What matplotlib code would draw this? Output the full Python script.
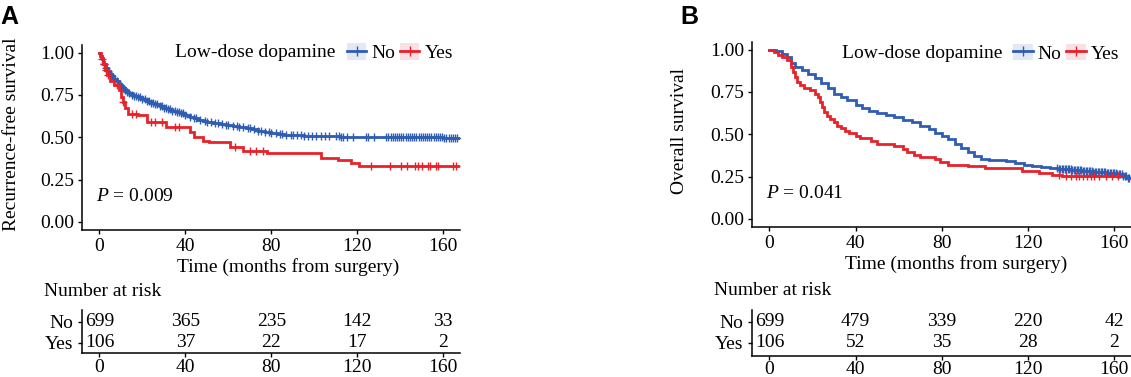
import numpy as np
import matplotlib
matplotlib.use("Agg")
import matplotlib.pyplot as plt
from matplotlib.patches import Patch
from matplotlib.lines import Line2D
from matplotlib.legend_handler import HandlerTuple

plt.rcParams['font.family'] = ['Liberation Serif', 'DejaVu Serif']
plt.rcParams['mathtext.fontset'] = 'custom'
plt.rcParams['mathtext.it'] = 'Liberation Serif:italic'
plt.rcParams['mathtext.rm'] = 'Liberation Serif'

# ---------------- data ----------------
groups = ["No", "Yes"]
legend_title = "Low-dose dopamine"
risk_times = [0, 40, 80, 120, 160]
x_ticks = [0, 40, 80, 120, 160]
y_ticks = [0.00, 0.25, 0.50, 0.75, 1.00]

# Panel A: recurrence-free survival
A_no_t = [0, 0.5, 1, 1.5, 2, 3, 4, 5, 6, 7, 8, 9, 10, 11, 12, 13, 14, 15, 16, 18, 20, 22, 24, 26,
          28, 30, 32, 34, 36, 38, 40, 42, 44, 46, 48, 50, 53, 56, 59, 62, 65, 68, 71, 74, 77, 80,
          83, 86, 90, 95, 100, 105, 112, 120, 140, 160]
A_no_s = [1.0, 0.98, 0.96, 0.945, 0.93, 0.91, 0.89, 0.875, 0.86, 0.845, 0.83, 0.815, 0.80, 0.79,
          0.78, 0.77, 0.76, 0.752, 0.745, 0.735, 0.725, 0.715, 0.705, 0.695, 0.685, 0.675, 0.665,
          0.655, 0.648, 0.641, 0.633, 0.622, 0.612, 0.603, 0.597, 0.591, 0.585, 0.578, 0.572,
          0.567, 0.562, 0.556, 0.548, 0.539, 0.531, 0.524, 0.519, 0.515, 0.512, 0.510, 0.508,
          0.506, 0.504, 0.502, 0.500, 0.498]
A_no_end = 167.7
A_no_cens = [1, 2, 3, 4, 5, 6, 7, 8, 9, 10, 11, 12, 13, 14, 15, 16, 17, 18, 19, 20, 21, 22, 23,
             24, 25, 26, 27, 28, 29, 30, 31, 32, 33, 34, 35, 36, 37, 38, 39, 40, 42, 44, 45, 47,
             49, 50, 52, 54, 55, 57, 59, 60, 62, 64, 65, 67, 69, 70, 72, 74, 75, 77, 79, 80, 82,
             84, 85, 87, 89, 90, 92, 94, 95, 97, 99, 101, 103, 105, 107, 110, 111.5, 112.5, 113.5,
             115, 118, 124, 125, 128, 133.5, 134.5, 135.5, 136.5, 137.5, 138.5, 139.5, 140.5,
             141.5, 142.5, 143.5, 144.5, 145.5, 146.5, 147.5, 148.5, 149.5, 150.5, 151.5, 152.5,
             153.5, 154.5, 155.5, 156.5, 157.5, 158.5, 159.5, 160.5, 161.5, 162.5, 163.5, 164.5,
             165.5, 166.5]

A_yes_t = [0, 0.8, 1.5, 2.5, 3.5, 5, 7, 9, 10, 11, 12, 13.5, 18, 22, 31, 42, 44, 48, 51, 61, 67,
           78, 103, 111, 117, 121]
A_yes_s = [1.0, 0.97, 0.93, 0.90, 0.87, 0.83, 0.81, 0.78, 0.74, 0.71, 0.67, 0.64, 0.63, 0.59,
           0.56, 0.53, 0.50, 0.48, 0.47, 0.44, 0.42, 0.405, 0.38, 0.365, 0.345, 0.33]
A_yes_end = 166.7
A_yes_cens = [2, 3, 4, 8, 11, 15, 17, 24, 26, 29, 35, 37, 63, 70, 73, 76, 126.6, 135, 140.5, 143,
              146.7, 148.3, 150, 153, 153.7, 156.8, 157.6, 164.4, 166]

A_risk_no = [699, 365, 235, 142, 33]
A_risk_yes = [106, 37, 22, 17, 2]
A_p = "0.009"
A_ylabel = "Recurrence-free survival"

# Panel B: overall survival
B_no_t = [0, 3, 6, 8, 10, 12, 15, 18, 21, 24, 27, 30, 33, 36, 40, 43, 46, 50, 54, 58, 62, 66, 70,
          74, 77, 80, 83, 86, 89, 92, 95, 98, 102, 106, 110, 114, 118, 122, 126, 130, 134, 140,
          145, 150, 156, 161, 164, 166]
B_no_s = [1.0, 0.99, 0.975, 0.955, 0.92, 0.90, 0.88, 0.855, 0.83, 0.805, 0.775, 0.74, 0.72,
          0.70, 0.675, 0.655, 0.64, 0.628, 0.612, 0.60, 0.587, 0.57, 0.55, 0.53, 0.51, 0.49,
          0.47, 0.445, 0.42, 0.395, 0.37, 0.355, 0.35, 0.345, 0.34, 0.33, 0.32, 0.313, 0.308,
          0.30, 0.295, 0.288, 0.282, 0.277, 0.272, 0.268, 0.255, 0.24]
B_no_end = 167.5
B_no_cens = [133.5, 134.2, 134.9, 135.6, 136.3, 137.0, 137.7, 138.4, 139.1, 139.8, 140.5, 141.2,
             141.9, 142.6, 143.3, 144.0, 144.7, 145.4, 146.1, 146.8, 147.5, 148.2, 148.9, 149.6,
             150.3, 151.0, 151.7, 152.4, 153.1, 153.8, 154.5, 155.2, 155.9, 156.6, 157.3, 158.0,
             158.7, 159.4, 160.1, 160.8, 161.5, 162.2, 162.9, 163.6, 164.3, 165.0, 165.7, 166.4,
             167.1]

B_yes_t = [0, 2, 4, 6, 8, 10, 11, 12, 13, 14, 16, 19, 21, 22.5, 23.5, 24.5, 25.5, 26.5, 28, 30,
           31.5, 33, 35, 37, 40, 42, 47, 50, 58, 62, 64, 67, 70, 77, 79, 83, 92, 100, 117, 125,
           131, 136]
B_yes_s = [1.0, 0.985, 0.97, 0.955, 0.94, 0.90, 0.87, 0.84, 0.81, 0.79, 0.775, 0.76, 0.74, 0.72,
           0.69, 0.66, 0.63, 0.61, 0.59, 0.57, 0.55, 0.535, 0.52, 0.505, 0.49, 0.475, 0.46,
           0.445, 0.43, 0.415, 0.395, 0.38, 0.365, 0.355, 0.335, 0.32, 0.31, 0.30, 0.285, 0.27,
           0.26, 0.255]
B_yes_end = 163.5
B_yes_cens = [134.5, 137.6, 139.9, 142.2, 143.8, 145.3, 147.6, 149.2, 150.7, 153, 156.2, 159.2,
              161.6]

B_risk_no = [699, 479, 339, 220, 42]
B_risk_yes = [106, 52, 35, 28, 2]
B_p = "0.041"
B_ylabel = "Overall survival"

# ---------------- styling ----------------
BLUE = "#2F5DB3"
RED = "#E8222B"
BLUE_BG = "#E3E9F4"
RED_BG = "#F7E1E2"
FS = 14
W, H = 1131, 377


def step_value(times, surv, t):
    idx = np.searchsorted(np.asarray(times), np.asarray(t), side="right") - 1
    return np.asarray(surv)[idx]


def km(ax, times, surv, end, cens, color):
    xs = list(times) + [end]
    ys = list(surv) + [surv[-1]]
    ax.step(xs, ys, where="post", color=color, lw=2.0, solid_joinstyle="miter")
    ax.plot(cens, step_value(times, surv, cens), ls="none", marker="+",
            color=color, ms=6, mew=1.0)


def style(ax):
    for s in ("top", "right"):
        ax.spines[s].set_visible(False)
    for s in ("left", "bottom"):
        ax.spines[s].set_linewidth(1.1)
    ax.tick_params(length=3.0, width=1.0, labelsize=FS, pad=2.5)


fig = plt.figure(figsize=(W / 100, H / 100), dpi=100)

panels = [
    dict(main=[82, 45, 460, 230], risk=[82, 310, 460, 353], no=(A_no_t, A_no_s, A_no_end, A_no_cens),
         yes=(A_yes_t, A_yes_s, A_yes_end, A_yes_cens), rno=A_risk_no, ryes=A_risk_yes, p=A_p,
         ylabel=A_ylabel, ylab_x=-0.164, xlab_x=0.546, leg_x=0.701, title_x=0.669, leg_y=0.957,
         letter="A", letter_x=0.0, risk_ylim=(-0.48, 1.57), risk_pad=1.5),
    dict(main=[752, 42, 1131, 227], risk=[752, 310, 1131, 356], no=(B_no_t, B_no_s, B_no_end, B_no_cens),
         yes=(B_yes_t, B_yes_s, B_yes_end, B_yes_cens), rno=B_risk_no, ryes=B_risk_yes, p=B_p,
         ylabel=B_ylabel, ylab_x=-0.169, xlab_x=0.538, leg_x=0.689, title_x=0.660, leg_y=0.94,
         letter="B", letter_x=680 / W, risk_ylim=(-0.62, 1.57), risk_pad=0.8),
]

for P in panels:
    l, t, r, b = P["main"]
    ax = fig.add_axes([l / W, 1 - b / H, (r - l) / W, (b - t) / H])
    km(ax, *P["no"], BLUE)
    km(ax, *P["yes"], RED)
    ax.set_xlim(-8.1, 167.8)
    ax.set_ylim(-0.048, 1.045)
    ax.set_xticks(x_ticks)
    ax.set_yticks(y_ticks)
    ax.set_yticklabels([f"{v:.2f}" for v in y_ticks])
    style(ax)
    ax.tick_params(axis="x", pad=3)
    ax.set_xlabel("Time (months from surgery)", fontsize=FS)
    ax.xaxis.set_label_coords(P["xlab_x"], -0.15)
    ax.set_ylabel(P["ylabel"], fontsize=FS)
    ax.yaxis.set_label_coords(P["ylab_x"], 0.52)
    ax.text(-1.5, 0.15, r"$\mathit{P}$ = " + P["p"], fontsize=FS, va="center", ha="left")

    ax.text(P["title_x"], P["leg_y"], legend_title, transform=ax.transAxes, fontsize=FS,
            ha="right", va="center")
    handles = [(Patch(facecolor=BLUE_BG, edgecolor="none"),
                Line2D([], [], color=BLUE, lw=2.0, marker="+", ms=7, mew=1.0)),
               (Patch(facecolor=RED_BG, edgecolor="none"),
                Line2D([], [], color=RED, lw=2.0, marker="+", ms=7, mew=1.0))]
    ax.legend(handles, groups, ncol=2, loc="center left",
              bbox_to_anchor=(P["leg_x"], P["leg_y"]), frameon=False, fontsize=FS,
              handlelength=1.0, handleheight=0.95, handletextpad=0.25, columnspacing=0.25,
              borderpad=0.0, borderaxespad=0.0,
              handler_map={tuple: HandlerTuple(ndivide=1, pad=0.0)})

    fig.text(P["letter_x"], 1 - 5 / H, P["letter"], fontsize=18, fontweight="bold",
             family="Liberation Sans", ha="left", va="top")

    l, t, r, b = P["risk"]
    rx = fig.add_axes([l / W, 1 - b / H, (r - l) / W, (b - t) / H])
    rx.set_xlim(-8.1, 167.8)
    rx.set_ylim(*P["risk_ylim"])
    rx.set_xticks(x_ticks)
    rx.set_yticks([1, 0])
    rx.set_yticklabels(groups)
    style(rx)
    rx.tick_params(axis="x", pad=P["risk_pad"])
    rx.tick_params(axis="y", pad=3.5)
    for xt, n in zip(risk_times, P["rno"]):
        rx.text(xt, 1, str(n), fontsize=FS, ha="center", va="center")
    for xt, n in zip(risk_times, P["ryes"]):
        rx.text(xt, 0, str(n), fontsize=FS, ha="center", va="center")
    rx.text(-0.10, 1.42, "Number at risk", transform=rx.transAxes, fontsize=FS,
            ha="left", va="center")

fig.savefig("out.png", dpi=100)
